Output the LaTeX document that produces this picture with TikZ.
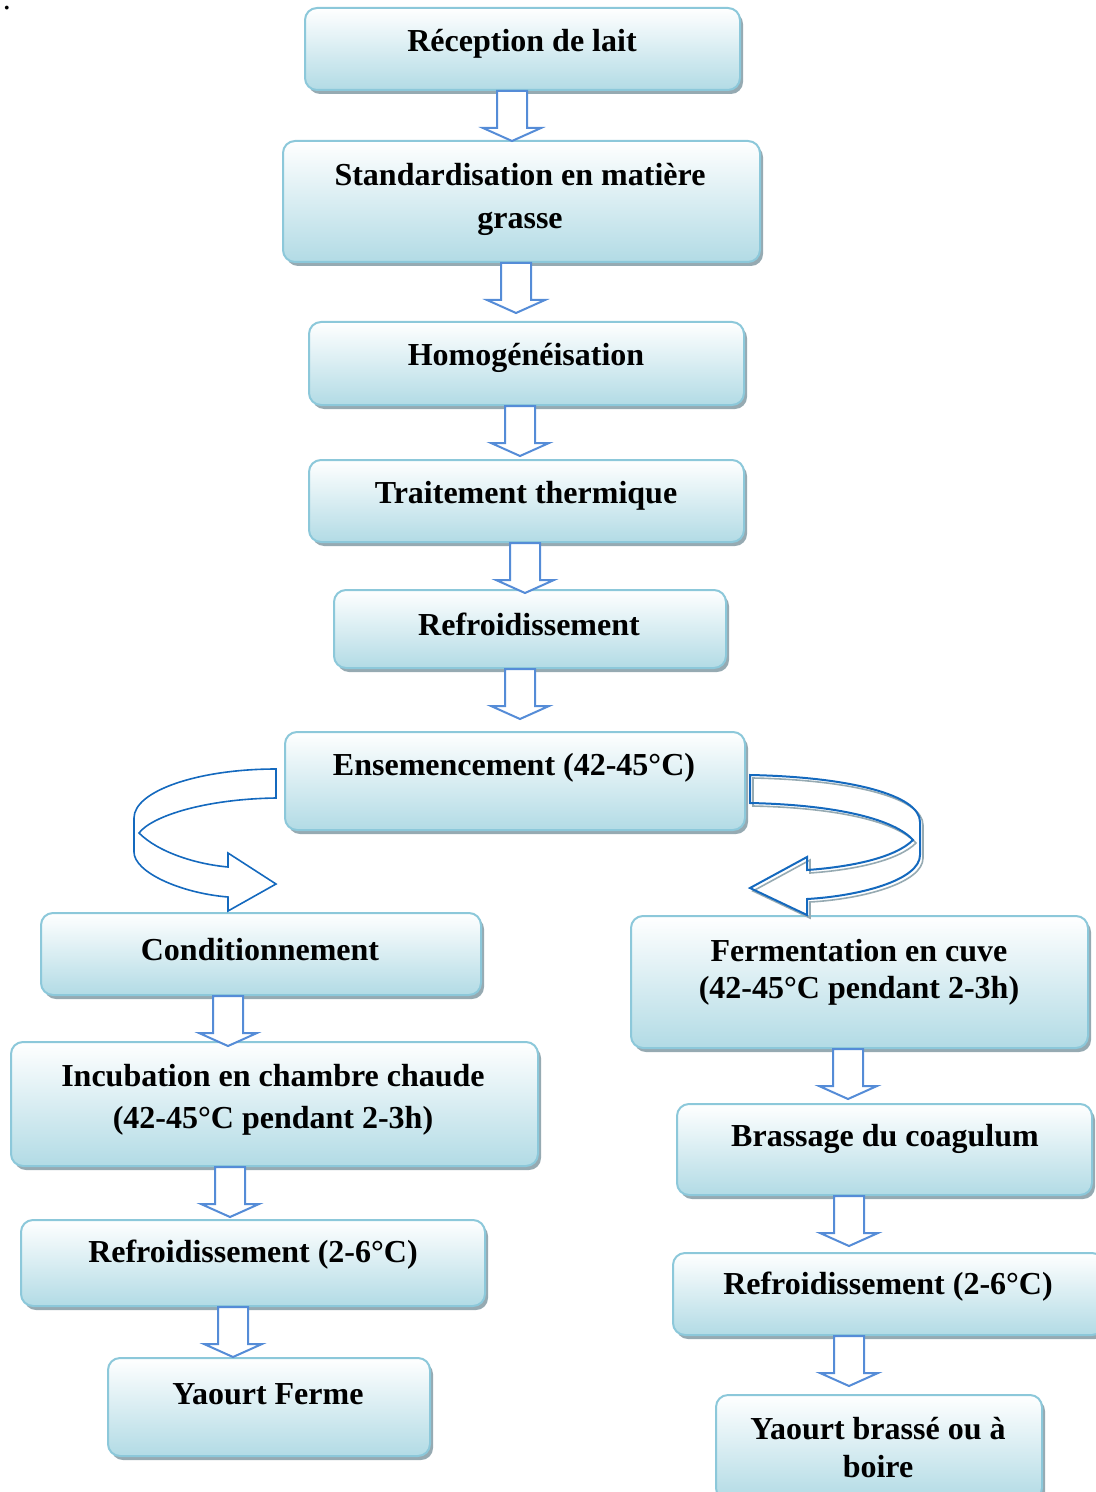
\documentclass[tikz,border=0pt]{standalone}
\usepackage{fontspec}
\setmainfont{Liberation Serif}
\usetikzlibrary{fit,shadows}

\definecolor{boxborder}{RGB}{140,200,218}
\definecolor{boxbottom}{RGB}{178,219,229}
\definecolor{shadowgray}{RGB}{150,170,178}
\definecolor{flechecol}{RGB}{85,140,215}
\definecolor{courbecol}{RGB}{20,105,190}

\tikzset{
  stepbox/.style={draw=boxborder, line width=1pt, rounded corners=6pt,
    top color=white, bottom color=boxbottom, inner sep=0pt,
    drop shadow={shadow xshift=1.5pt, shadow yshift=-2pt, fill=shadowgray, opacity=1}},
  steptext/.style={font=\fontsize{16}{19}\selectfont\bfseries, align=center, inner sep=0pt},
  flechebleue/.style={draw=flechecol, line width=1pt, fill=white, line join=miter},
  courbe/.style={draw=courbecol, line width=0.8pt, line join=miter},
  fleche/.pic={
    \draw[flechebleue] (-15,0) -- (15,0) -- (15,37) -- (29,37) -- (0,50) -- (-29,37) -- (-15,37) -- cycle;
  }
}

\begin{document}
\begin{tikzpicture}[x=0.5pt, y=-0.5pt]
    \useasboundingbox (0,0) rectangle (1096,1492);

    % tronc commun
    \node[stepbox, fit={(305,8) (740,90)}] (recep) {};
    \node[stepbox, fit={(283,141) (760,262)}] (standard) {};
    \node[stepbox, fit={(309,322) (744,405)}] (homog) {};
    \node[stepbox, fit={(309,460) (744,542)}] (trait) {};
    \node[stepbox, fit={(334,590) (726,668)}] (refr) {};
    \node[stepbox, fit={(285,732) (745,830)}] (ensem) {};

    % yaourt ferme
    \node[stepbox, fit={(41,913) (481,995)}] (condit) {};
    \node[stepbox, fit={(11,1042) (538,1166)}] (incub) {};
    \node[stepbox, fit={(21,1220) (485,1306)}] (refrg) {};
    \node[stepbox, fit={(108,1358) (430,1456)}] (ferme) {};

    % yaourt brasse
    \node[stepbox, fit={(631,916) (1088,1048)}] (ferment) {};
    \node[stepbox, fit={(677,1104) (1092,1195)}] (brass) {};
    \node[stepbox, fit={(673,1253) (1104,1335)}] (refrd) {};
    \node[stepbox, fit={(716,1395) (1042,1500)}] (yaourt) {};

    \node[steptext] (recepT) at (522,44) {Réception de lait};
    \node[steptext, font=\fontsize{16}{21.5}\selectfont\bfseries] (standardT) at (520,199) {Standardisation en matière\\grasse};
    \node[steptext] (homogT) at (526,358) {Homogénéisation};
    \node[steptext] (traitT) at (526,496) {Traitement thermique};
    \node[steptext] (refrT) at (529,624) {Refroidissement};
    \node[steptext] (ensemT) at (514,768) {Ensemencement (42-45°C)};
    \node[steptext] (conditT) at (260,950) {Conditionnement};
    \node[steptext, font=\fontsize{16}{21}\selectfont\bfseries] (incubT) at (273,1100) {Incubation en chambre chaude\\(42-45°C pendant 2-3h)};
    \node[steptext] (refrgT) at (253,1255) {Refroidissement (2-6°C)};
    \node[steptext] (fermeT) at (268,1394) {Yaourt Ferme};
    \node[steptext, font=\fontsize{16}{18.5}\selectfont\bfseries] (fermentT) at (859,972) {Fermentation en cuve\\(42-45°C pendant 2-3h)};
    \node[steptext] (brassT) at (885,1139) {Brassage du coagulum};
    \node[steptext] (refrdT) at (888,1287) {Refroidissement (2-6°C)};
    \node[steptext] (yaourtT) at (878,1448) {Yaourt brassé ou à\\boire};

    \node[font=\fontsize{16}{19}\selectfont, inner sep=0pt, anchor=base] (point) at (7,10) {.};

    % fleches droites
    \pic at (512,0 |- recep.south) {fleche};
    \pic at (516,0 |- standard.south) {fleche};
    \pic at (520,0 |- homog.south) {fleche};
    \pic at (525,0 |- trait.south) {fleche};
    \pic at (520,0 |- refr.south) {fleche};
    \pic at (228,0 |- condit.south) {fleche};
    \pic at (230,0 |- incub.south) {fleche};
    \pic at (233,0 |- refrg.south) {fleche};
    \pic at (848,0 |- ferment.south) {fleche};
    \pic at (849,0 |- brass.south) {fleche};
    \pic at (849,0 |- refrd.south) {fleche};

    % fleche courbe gauche
    \draw[courbe] (276,769) .. controls (198,769) and (134,791) .. (134,818) -- (134,852)
      .. controls (134,872) and (180,893) .. (228,897) -- (228,911) -- (276,884) -- (228,853) -- (228,867)
      .. controls (195,864) and (158,852) .. (139,833)
      .. controls (152,816) and (205,799) .. (276,798) -- cycle;

    % fleche courbe droite (avec ombre)
    \begin{scope}[shift={(3,3)}]
      \draw[courbe, draw=shadowgray] (750,775) .. controls (850,777) and (920,795) .. (920,822) -- (920,855)
        .. controls (920,880) and (860,896) .. (807,899) -- (807,915) -- (750,888) -- (807,857) -- (807,870)
        .. controls (850,867) and (895,858) .. (913,840)
        .. controls (895,820) and (840,805) .. (750,803) -- cycle;
    \end{scope}
    \draw[courbe, line width=1pt] (750,775) .. controls (850,777) and (920,795) .. (920,822) -- (920,855)
      .. controls (920,880) and (860,896) .. (807,899) -- (807,915) -- (750,888) -- (807,857) -- (807,870)
      .. controls (850,867) and (895,858) .. (913,840)
      .. controls (895,820) and (840,805) .. (750,803) -- cycle;
\end{tikzpicture}
\end{document}
